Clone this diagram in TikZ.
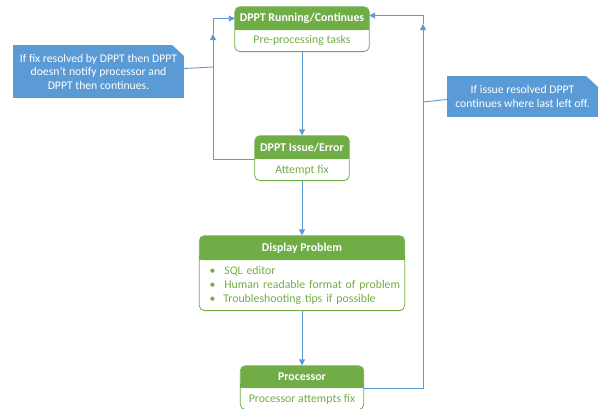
\documentclass[tikz,border=0pt]{standalone}
\usepackage{fontspec}
\setmainfont{Carlito}
\usetikzlibrary{arrows.meta,positioning,fit}
\definecolor{hdgreen}{RGB}{112,173,71}
\definecolor{lnblue}{RGB}{91,155,213}

\begin{document}
\begin{tikzpicture}[
      x=1pt,y=-1pt,
      hdr/.style={fill=hdgreen,text=white,font=\fontsize{11.9}{13}\selectfont\bfseries,
        rounded corners=5pt,minimum height=23pt,inner sep=0pt},
      body/.style={text=hdgreen,font=\fontsize{11.8}{14}\selectfont,
        minimum height=21pt,inner sep=0pt},
      frame/.style={draw=hdgreen,rounded corners=5pt,line width=.8pt,inner sep=0pt},
      link/.style={draw=lnblue,line width=.9pt},
      arr/.style={link,-{Triangle[length=6pt,width=6pt]}},
      note/.style={fill=lnblue,text=white,align=center,inner sep=0pt,
        font=\fontsize{11.7}{13.5}\selectfont}]
    \useasboundingbox (0,0) rectangle (608,408);

    \node[hdr,minimum width=134pt] (run) at (302,18.5) {DPPT Running/Continues};
    \node[body,minimum width=134pt,below=0pt of run] (runb) {Pre-processing tasks};
    \node[hdr,minimum width=94pt] (iss) at (302,147.5) {DPPT Issue/Error};
    \node[body,minimum width=94pt,below=0pt of iss] (issb) {Attempt fix};
    \node[hdr,minimum width=205pt,minimum height=24pt] (disp) at (302,248) {Display Problem};
    \node[body,minimum width=205pt,minimum height=50pt,text width=197pt,align=left,
      below=0pt of disp] (dispb) {\hspace*{6pt}\textbullet\hspace{9pt}SQL editor\\
      \hspace*{6pt}\textbullet\hspace{9pt}Human readable format of problem\\
      \hspace*{6pt}\textbullet\hspace{8pt}Troubleshooting tips if possible};
    \node[hdr,minimum width=123pt,minimum height=22pt] (proc) at (302,377) {Processor};
    \node[body,minimum width=123pt,below=0pt of proc] (procb) {Processor attempts fix};

    % square off the lower corners of the headers
    \foreach \n in {run,iss,disp,proc}
      \fill[hdgreen] (\n.south west) rectangle ([yshift=5pt]\n.south east);

    \node[frame,fit=(run)(runb)] (runf) {};
    \node[frame,fit=(iss)(issb)] (issf) {};
    \node[frame,fit=(disp)(dispb)] (dispf) {};
    \node[frame,fit=(proc)(procb)] (procf) {};

    \node[note,minimum width=171pt,minimum height=53pt] (fixnote) at (98.5,71.5)
      {If fix resolved by DPPT then DPPT\\doesn't notify processor and\\DPPT then continues.};
    \node[note,minimum width=151pt,minimum height=41pt] (issnote) at (522.5,96.5)
      {If issue resolved DPPT\\continues where last left off.};
    \foreach \n in {fixnote,issnote} {
      \fill[white] ([xshift=-12pt]\n.north east) -- (\n.north east)
        -- ([yshift=-11pt]\n.north east) -- cycle;
      \draw[lnblue!25,line width=.4pt] ([xshift=-12pt]\n.north east)
        -- ([yshift=-11pt]\n.north east);
    }

    \coordinate (lmid) at (213,34);
    \coordinate (rmid) at (423,24);
    \coordinate (lfix) at (213,67);
    \coordinate (riss) at (423,102);

    \draw[arr] (runf) -- (issf);
    \draw[arr] (issf) -- (dispf);
    \draw[arr] (dispf) -- (procf);
    \draw[arr] (iss.south west) -| (lmid);
    \draw[arr] (lmid) |- (run.west);
    \draw[arr] (proc.south east) -| (rmid);
    \draw[arr] (rmid) |- ([yshift=3pt]run.east);
    \draw[link] ([yshift=3pt]fixnote.east) -- (lfix);
    \draw[link] (riss) -- ([yshift=-3pt]issnote.west);
  \end{tikzpicture}
\end{document}
